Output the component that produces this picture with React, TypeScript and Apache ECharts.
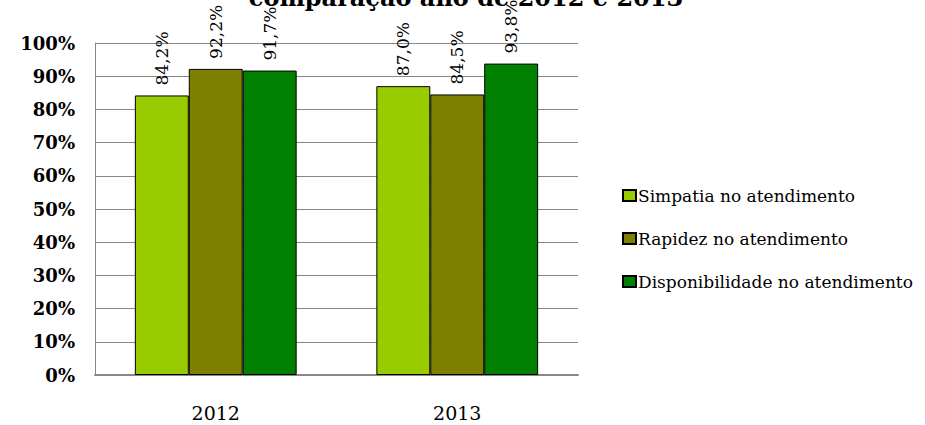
import React, { useEffect, useRef } from "react";
import * as echarts from "echarts";

const categories = ["2012", "2013"];
const seriesNames = [
  "Simpatia no atendimento",
  "Rapidez no atendimento",
  "Disponibilidade no atendimento",
];
const simpatia = [84.2, 87.0];
const rapidez = [92.2, 84.5];
const disponibilidade = [91.7, 93.8];
const colors = ["#99CC00", "#808000", "#008000"];
const titleText = "comparação ano de 2012 e 2013";

const FONT = "DejaVu Serif";

export default function App() {
  const ref = useRef<HTMLDivElement>(null);
  useEffect(() => {
    document.body.style.margin = "0";
    if (!ref.current) return;
    const chart = echarts.init(ref.current, undefined, { renderer: "svg" });
    const values = [simpatia, rapidez, disponibilidade];
    chart.setOption({
      animation: false,
      backgroundColor: "#ffffff",
      textStyle: { fontFamily: FONT },
      graphic: [
        {
          type: "text",
          x: 466,
          y: 9,
          style: {
            text: titleText,
            fontFamily: FONT,
            fontSize: 24,
            fontWeight: "bold",
            fill: "#000",
            textAlign: "center",
            textVerticalAlign: "bottom",
          },
        },
      ],
      grid: { left: 95, right: 347, top: 43, bottom: 50 },
      legend: {
        orient: "vertical",
        left: 617,
        top: 182,
        itemWidth: 13,
        itemHeight: 11,
        itemGap: 26,
        icon: "rect",
        textStyle: { fontFamily: FONT, fontSize: 17, color: "#000", padding: [0, 0, 0, -3] },
        data: seriesNames,
      },
      xAxis: {
        type: "category",
        data: categories,
        axisLine: { lineStyle: { color: "#888", width: 2 } },
        axisTick: { show: false },
        axisLabel: { fontFamily: FONT, fontSize: 19, color: "#000", margin: 28 },
      },
      yAxis: {
        type: "value",
        min: 0,
        max: 100,
        interval: 10,
        axisLine: { show: true, lineStyle: { color: "#888", width: 1 } },
        axisTick: { show: false },
        splitLine: { lineStyle: { color: "#888", width: 1 } },
        axisLabel: {
          formatter: "{value}%",
          fontFamily: FONT,
          fontSize: 18,
          fontWeight: "bold",
          color: "#000",
          margin: 20,
        },
      },
      series: seriesNames.map((name, i) => ({
        name,
        type: "bar",
        data: values[i],
        barGap: "0%",
        barCategoryGap: "33%",
        itemStyle: { color: colors[i], borderColor: "#000", borderWidth: 1 },
        label: {
          show: true,
          position: "top",
          rotate: 90,
          align: "left",
          verticalAlign: "middle",
          distance: 10,
          fontFamily: FONT,
          fontSize: 17,
          color: "#000",
          formatter: (p: any) => p.value.toFixed(1).replace(".", ",") + "%",
        },
      })),
    });
    return () => chart.dispose();
  }, []);
  return <div ref={ref} style={{ width: 925, height: 425 }} />;
}
